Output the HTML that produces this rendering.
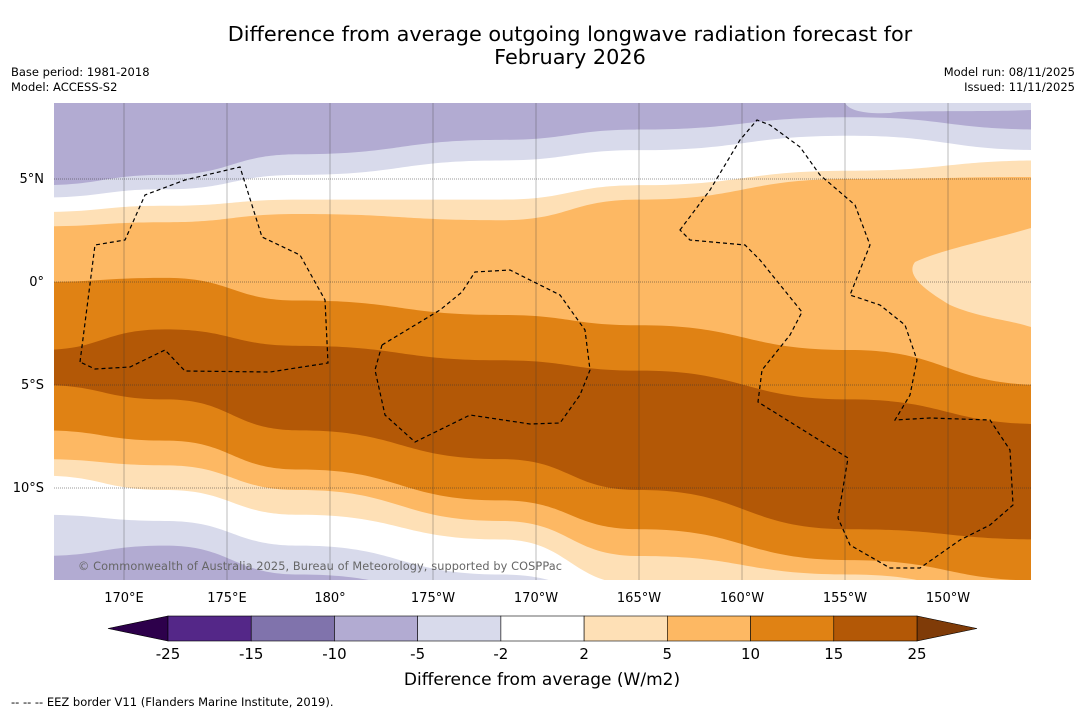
<!DOCTYPE html>
<html><head><meta charset="utf-8">
<style>
body{margin:0;background:#fff;font-family:"Liberation Sans","DejaVu Sans",sans-serif;}
svg text{font-family:"DejaVu Sans","Liberation Sans",sans-serif;}
</style></head>
<body>
<svg id="chart" width="1085" height="713" viewBox="0 0 1085 713" xmlns="http://www.w3.org/2000/svg">
<rect width="1085" height="713" fill="#fff"/>
<text x="570" y="41" text-anchor="middle" font-size="20.8">Difference from average outgoing longwave radiation forecast for</text>
<text x="570" y="64" text-anchor="middle" font-size="20.8">February 2026</text>
<text x="11" y="76" font-size="11.5">Base period: 1981-2018</text>
<text x="11" y="91" font-size="11.5">Model: ACCESS-S2</text>
<text x="1075" y="76" font-size="11.5" text-anchor="end">Model run: 08/11/2025</text>
<text x="1075" y="91" font-size="11.5" text-anchor="end">Issued: 11/11/2025</text>
<defs><clipPath id="mapclip"><rect x="54" y="103" width="977" height="477"/></clipPath></defs>
<g id="map" clip-path="url(#mapclip)"></g>
<g id="axes"></g>
<text x="78" y="570" font-size="11.3" fill="#666" textLength="484">© Commonwealth of Australia 2025, Bureau of Meteorology, supported by COSPPac</text>
<g id="cbar"></g>
<text x="542" y="685" text-anchor="middle" font-size="17">Difference from average (W/m2)</text>
<text x="11" y="706" font-size="11.5">--  --  -- EEZ border V11 (Flanders Marine Institute, 2019).</text>
</svg>
<script>
// Data
const sampleLons = [166.6, 172.0, 178.5, 188.3, 195.0, 205.2, 214.0];
const boundaryLevels = ["-10/-5","-5/-2","-2/2","2/5","5/10","10/15","15/25","10/15b","5/10b","2/5b","-2/2b","-5/-2b"];
const b01 = [4.7, 5.2, 6.2, 6.9, 7.4, 8.0, 7.4];
const b02 = [4.1, 4.5, 5.2, 5.9, 6.4, 7.1, 6.4];
const b03 = [3.4, 3.7, 4.0, 4.0, 4.7, 5.4, 5.9];
const b04 = [2.7, 2.9, 3.3, 3.0, 4.0, 5.0, 5.1];
const b05 = [0.0, 0.2, -0.9, -1.6, -2.1, -3.3, -5.0];
const b06 = [-3.3, -2.3, -3.1, -3.8, -4.3, -5.7, -6.9];
const b07 = [-5.0, -5.7, -7.2, -8.6, -10.1, -12.0, -12.5];
const b08 = [-7.2, -7.7, -9.1, -10.6, -12.0, -13.5, -14.5];
const b09 = [-8.6, -8.9, -10.1, -11.6, -13.3, -14.2, -15.4];
const b10 = [-9.4, -10.1, -11.3, -12.5, -14.7, -15.4, -16.0];
const b11 = [-11.3, -11.6, -12.8, -14.2, -15.4, -16.0, -16.0];
const b12 = [-13.3, -12.8, -14.2, -15.4, -16.0, -16.0, -16.0];
const cbarTicks = ["-25","-15","-10","-5","-2","2","5","10","15","25"];
const lonTicks = [170,175,180,185,190,195,200,205,210];
const lonLabels = ["170°E","175°E","180°","175°W","170°W","165°W","160°W","155°W","150°W"];
const latTicks = [5,0,-5,-10];
const latLabels = ["5°N","0°","5°S","10°S"];

const NS="http://www.w3.org/2000/svg";
const xS = lon => 124 + (lon-170)*20.6;
const yS = lat => 282 - lat*20.6;
const colors = ["#b2abd2","#d8daeb","#ffffff","#fee0b6","#fdb863","#e08214","#b35806","#e08214","#fdb863","#fee0b6","#ffffff","#d8daeb","#b2abd2"];
const bounds=[b01,b02,b03,b04,b05,b06,b07,b08,b09,b10,b11,b12];
const map=document.getElementById('map');
function mk(tag,attrs,parent){const e=document.createElementNS(NS,tag);for(const k in attrs)e.setAttribute(k,attrs[k]);parent.appendChild(e);return e;}
function curve(arr){
  let pts=sampleLons.map((l,i)=>[xS(l),yS(arr[i])]);
  pts[0][0]=40; pts[pts.length-1][0]=1045;
  let d="M"+pts[0][0]+","+pts[0][1];
  for(let i=1;i<pts.length;i++){const p=pts[i-1],q=pts[i],mx=(p[0]+q[0])/2;d+=" C"+mx+","+p[1]+" "+mx+","+q[1]+" "+q[0]+","+q[1];}
  return d;
}
const bg=mk('rect',{x:40,y:90,width:1010,height:500,fill:colors[0]},map);


bounds.forEach((b,i)=>{
  const p=mk('path',{d:curve(b)+" L1045,600 L40,600 Z",fill:colors[i+1]},map);
  
  
});
const patch=mk('path',{d:"M1031,228 C990,240 940,250 915,262 C905,275 925,290 950,305 C980,318 1010,320 1031,327 Z",fill:"#fee0b6"},map);


const patch2=mk('path',{d:"M845,103 L1031,103 L1031,110 C980,112 900,110 890,113 C870,114 850,112 845,103 Z",fill:"#d8daeb"},map);


lonTicks.forEach((l,i)=>{
  const g=mk('line',{x1:xS(l),x2:xS(l),y1:103,y2:580,stroke:"#333","stroke-width":0.4,opacity:0.8},map);
  
  
  const t=mk('text',{x:xS(l),y:602,"text-anchor":"middle","font-size":13},document.getElementById('axes'));
  t.textContent=lonLabels[i];
  
  
});
latTicks.forEach((l,i)=>{
  const g=mk('line',{x1:54,x2:1031,y1:yS(l),y2:yS(l),stroke:"#333","stroke-width":0.6,"stroke-dasharray":"1,1"},map);
  
  
  const t=mk('text',{x:44,y:yS(l)+4,"text-anchor":"end","font-size":13},document.getElementById('axes'));
  t.textContent=latLabels[i];
  
  
});
const eez=["M80,362 L95,245 L125,240 L145,195 L185,180 L240,167 L262,237 L300,255 L325,300 L328,363 L270,372 L185,371 L165,350 L130,367 L95,369 Z",
"M382,345 L440,310 L462,292 L475,272 L510,270 L560,295 L585,330 L590,370 L580,395 L560,423 L530,424 L470,415 L415,442 L385,415 L375,370 Z",
"M680,230 L710,190 L740,140 L757,120 L770,125 L800,147 L820,175 L855,205 L870,245 L850,295 L880,305 L905,325 L917,360 L910,395 L895,420 L930,418 L990,420 L1010,450 L1013,505 L990,525 L960,540 L920,568 L890,568 L850,545 L838,518 L848,458 L758,402 L762,370 L790,335 L802,312 L760,260 L745,245 L690,240 Z"];
eez.forEach(d=>{const p=mk('path',{d:d,fill:"none",stroke:"#000","stroke-width":1.2,"stroke-dasharray":"4,3"},map);

});
const cb=document.getElementById('cbar');
const cbColors=["#542788","#8073ac","#b2abd2","#d8daeb","#ffffff","#fee0b6","#fdb863","#e08214","#b35806"];
const w=(917-168)/9;
const lt=mk('polygon',{points:"108,628.5 168,616 168,641",fill:"#2d004b",stroke:"#000","stroke-width":0.6},cb);


const rt=mk('polygon',{points:"977,628.5 917,616 917,641",fill:"#7f3b08",stroke:"#000","stroke-width":0.6},cb);


cbColors.forEach((c,i)=>{const r=mk('rect',{x:168+i*w,y:616,width:w,height:25,fill:c,stroke:"#000","stroke-width":0.6},cb);

});
cbarTicks.forEach((t,i)=>{const e=mk('text',{x:168+i*w,y:659,"text-anchor":"middle","font-size":15},cb);e.textContent=t;

});
</script>
</body></html>
